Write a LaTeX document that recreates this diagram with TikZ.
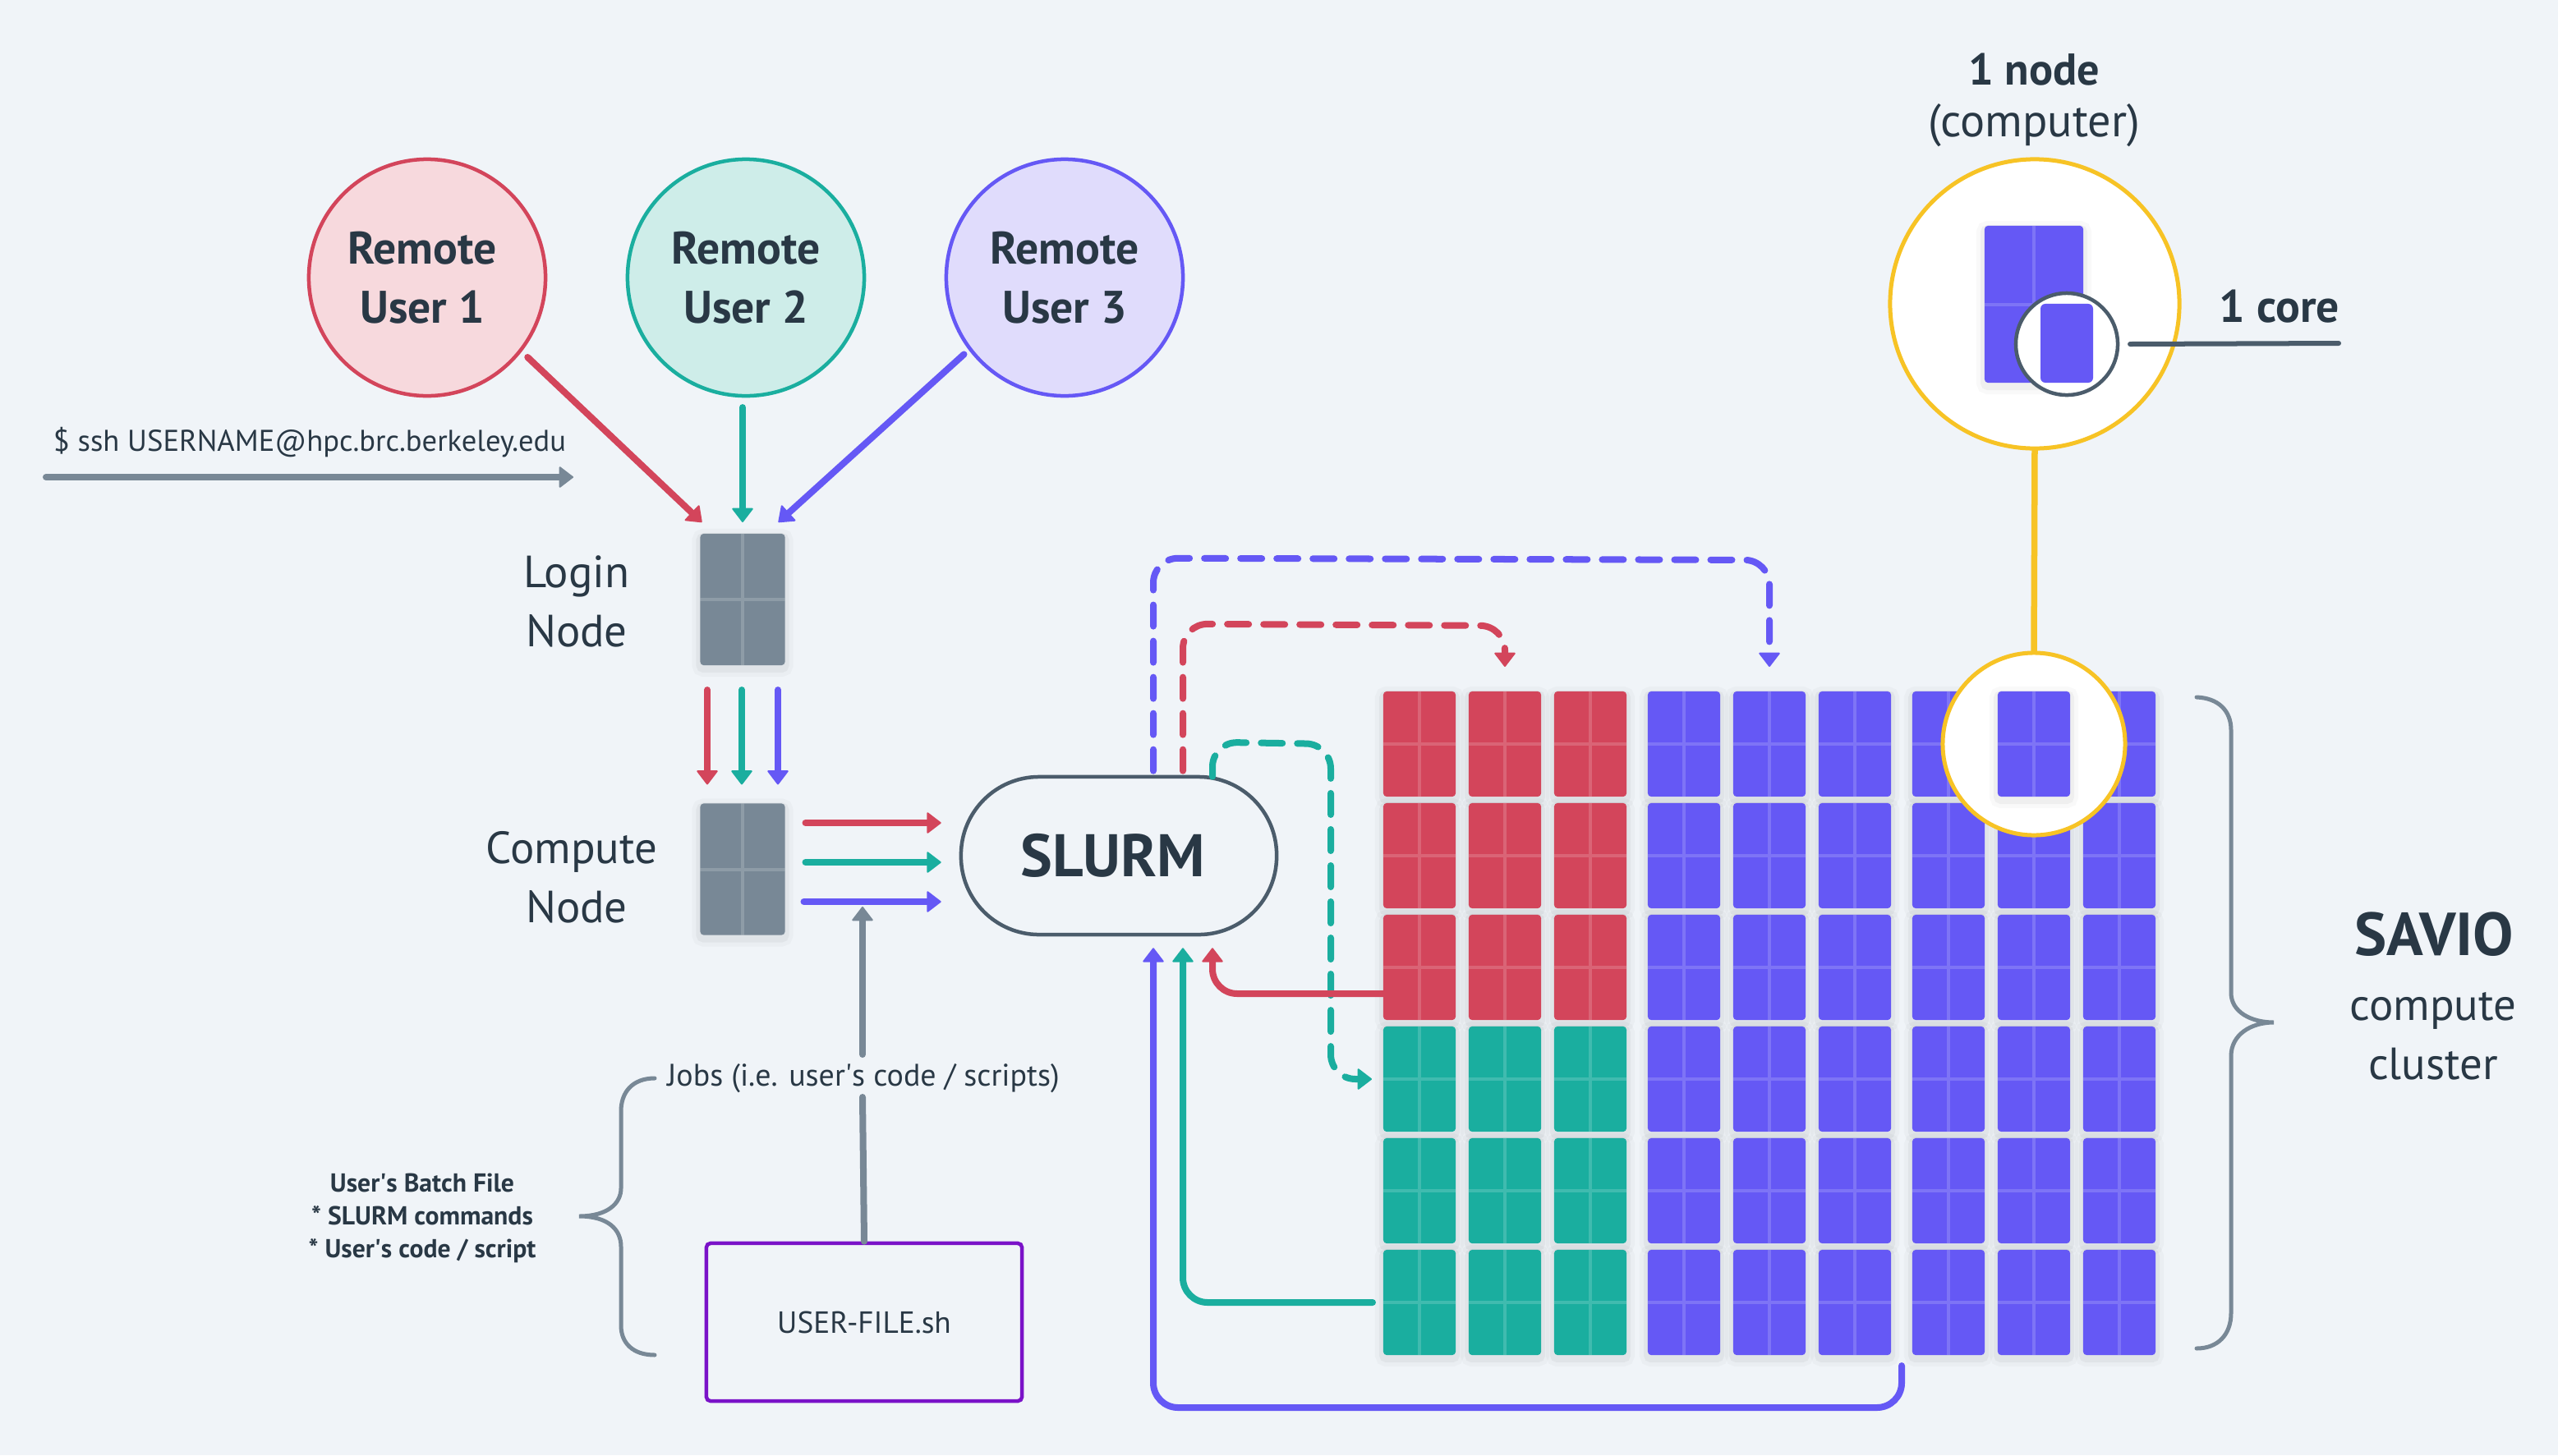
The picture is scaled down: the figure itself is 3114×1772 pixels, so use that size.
\documentclass[tikz,border=0pt]{standalone}
\usepackage{fontspec}
\setmainfont{PT Sans}
\usetikzlibrary{arrows.meta,calc}
\definecolor{bgc}{HTML}{F0F4F8}
\definecolor{redc}{HTML}{D3455B}
\definecolor{tealc}{HTML}{1AAE9F}
\definecolor{bluec}{HTML}{6558F5}
\definecolor{greyc}{HTML}{788896}
\definecolor{darkc}{HTML}{293845}
\definecolor{slatec}{HTML}{4B5C6B}
\definecolor{yelc}{HTML}{F7C325}
\definecolor{purpc}{HTML}{7A12C8}
\definecolor{redl}{HTML}{F7D9DD}
\definecolor{teall}{HTML}{CEEDE9}
\definecolor{bluel}{HTML}{E0DCFC}
\tikzset{
  softshadow/.style={
    preaction={draw=black,opacity=.025,line width=.2cm,fill=none,transform canvas={yshift=-.04cm}},
    preaction={draw=black,opacity=.04,line width=.1cm,fill=none,transform canvas={yshift=-.04cm}}},
  cross/.style={path picture={
    \draw[white,opacity=.17,line width=.04cm]
      (path picture bounding box.north) -- (path picture bounding box.south)
      (path picture bounding box.west) -- (path picture bounding box.east);}},
  srv/.style={rectangle,rounded corners=.04cm,inner sep=0pt,outer sep=0pt,
    minimum width=.88cm,minimum height=1.28cm,softshadow,cross},
  gatebox/.style={srv,fill=greyc,minimum width=1.03cm,minimum height=1.6cm},
  usercirc/.style={circle,inner sep=0pt,outer sep=0pt,minimum size=2.88cm,line width=.045cm},
  usertxt/.style={align=center,text=darkc,inner sep=0pt,
    font=\fontsize{15.8}{20.5}\selectfont\bfseries},
  lab/.style={align=center,text=darkc,inner sep=0pt,font=\fontsize{15.6}{20.5}\selectfont},
  small/.style={text=darkc,inner sep=0pt,font=\fontsize{10.4}{12}\selectfont},
  batch/.style={align=center,text=darkc,inner sep=0pt,font=\fontsize{9}{11.4}\selectfont\bfseries},
  flow/.style={line width=.08cm,line cap=round,
    -{Triangle[length=.18cm,width=.27cm,line width=.02cm,round]}},
  gflow/.style={flow,draw=greyc},
  gline/.style={draw=greyc,line width=.08cm,line cap=round},
  dashflow/.style={flow,rounded corners=.3cm,dash pattern=on .26cm off .18cm},
  solidflow/.style={flow,rounded corners=.3cm},
  bracec/.style={draw=greyc,line width=.05cm,line cap=round},
}
\begin{document}
\begin{tikzpicture}[x=.01cm,y=-.01cm]
\fill[bgc] (0,0) rectangle (3114,1772);
\useasboundingbox (0,0) rectangle (3114,1772);

% users
\node[usercirc,draw=redc,fill=redl] (u1) at (520,338) {};
\node[usercirc,draw=tealc,fill=teall] (u2) at (908,338) {};
\node[usercirc,draw=bluec,fill=bluel] (u3) at (1296,338) {};
\node[usertxt] (u1t) at (514,338) {Remote\\User 1};
\node[usertxt] (u2t) at (908,338) {Remote\\User 2};
\node[usertxt] (u3t) at (1296,338) {Remote\\User 3};

% login and compute nodes
\node[gatebox] (login) at (904,730) {};
\node[gatebox] (compute) at (904,1058.5) {};
\node[lab] (loginl) at (702,732) {Login\\Node};
\node[lab] (computel) at (696,1068) {Compute\\\hspace*{.12cm}Node};

% user to login
\draw[flow,draw=redc,shorten <=.12cm] (u1.-38) -- ([shift={(2,-14)}]login.north west);
\draw[flow,draw=tealc] ([shift={(-4,14)}]u2.south) -- ([shift={(0,-14)}]login.north);
\draw[flow,draw=bluec,shorten <=.1cm] (u3.-143) -- ([shift={(-8,-14)}]login.north east);

% ssh
\node[small,anchor=base] (ssh) at (377,549.5) {\$ ssh USERNAME@hpc.brc.berkeley.edu};
\coordinate (sshstart) at (56,581);
\coordinate (sshend) at (698,581);
\draw[gflow] (sshstart) -- (sshend);

% login to compute
\draw[flow,draw=redc] ([shift={(-43,30)}]login.south) -- ([shift={(-43,-23)}]compute.north);
\draw[flow,draw=tealc] ([shift={(-1,30)}]login.south) -- ([shift={(-1,-23)}]compute.north);
\draw[flow,draw=bluec] ([shift={(43,30)}]login.south) -- ([shift={(43,-23)}]compute.north);

% SLURM
\node[rectangle,draw=slatec,line width=.045cm,rounded corners=.95cm,minimum width=3.84cm,minimum height=1.92cm,
  inner sep=0pt,text=darkc,font=\fontsize{20.8}{24}\selectfont\bfseries] (slurm) at (1362,1042) {SLURM\kern.14cm};

% compute to SLURM
\draw[flow,draw=redc] ([shift={(25,-56.5)}]compute.east) -- ([shift={(-22,-40)}]slurm.west);
\draw[flow,draw=tealc] ([shift={(25,-8.5)}]compute.east) -- ([shift={(-22,8)}]slurm.west);
\draw[flow,draw=bluec] ([shift={(23,39.5)}]compute.east) -- ([shift={(-22,56)}]slurm.west);

% batch file
\node[rectangle,draw=purpc,line width=.045cm,rounded corners=.05cm,minimum width=3.84cm,minimum height=1.92cm,
  inner sep=0pt,text=darkc,font=\fontsize{10.6}{12}\selectfont] (file) at (1052,1610) {USER-FILE.sh};
\node[small,font=\fontsize{10.8}{12}\selectfont] (jobs) at (1051,1313) {Jobs (i.e. user\textquotesingle s code / scripts)};
\coordinate (jobtip) at (1050,1104);
\draw[gline] (file.north) -- ([shift={(-1,23)}]jobs.center);
\draw[gflow] ([shift={(-1,-29)}]jobs.center) -- (jobtip);
\node[batch] (batch) at (514,1483) {User\textquotesingle s Batch File\\* SLURM commands\\* User\textquotesingle s code / script};
\draw[bracec] (797,1313) .. controls (770,1313) and (756,1330) .. (756,1353) -- (756,1447)
  .. controls (756,1465) and (740,1481) .. (705,1481)
  .. controls (740,1481) and (756,1497) .. (756,1518) -- (756,1614)
  .. controls (756,1635) and (770,1650) .. (797,1650);

% cluster grid
\foreach \cx [count=\ci] in {1728,1832,1936,2050,2154,2258,2372,2476,2580}
  \foreach \ry [count=\ri] in {906,1042,1178,1314,1450,1586} {
    \ifnum\ci>3 \def\cc{bluec}\else\ifnum\ri>3 \def\cc{tealc}\else\def\cc{redc}\fi\fi
    \node[srv,fill=\cc] (c-\ri-\ci) at (\cx,\ry) {};
  }

% dashed jobs out of SLURM
\draw[dashflow,draw=bluec] ([shift={(42,-5)}]slurm.north) -- ++(0,-259) -- ([shift={(0,-160)}]c-1-5.north) -- ([shift={(0,-30)}]c-1-5.north);
\draw[dashflow,draw=redc] ([shift={(78,-5)}]slurm.north) -- ++(0,-179) -- ([shift={(0,-80)}]c-1-2.north) -- ([shift={(0,-30)}]c-1-2.north);
\draw[dashflow,draw=tealc] ([shift={(114,2)}]slurm.north) -- ++(0,-42) -- (1620,906) -- (1620,1314) -- ([shift={(-14,0)}]c-4-1.west);

% solid returns to SLURM
\draw[solidflow,draw=bluec] ([shift={(13,13)}]c-6-6.south east) -- (2315,1714) -- (1404,1714) -- ([shift={(42,14)}]slurm.south);
\draw[solidflow,draw=tealc] ([shift={(-13,0)}]c-6-1.west) -- (1440,1586) -- ([shift={(78,14)}]slurm.south);
\draw[solidflow,draw=redc,line cap=butt] ([shift={(0,32)}]c-3-1.west) -- (1476,1210) -- ([shift={(114,14)}]slurm.south);

% zoom on one node
\node[circle,draw=yelc,fill=white,line width=.05cm,minimum size=3.52cm,inner sep=0pt,outer sep=0pt] (bigc) at (2477,370) {};
\node[circle,draw=yelc,fill=white,line width=.05cm,minimum size=2.22cm,inner sep=0pt,outer sep=0pt] (smallc) at (2476,906) {};
\draw[draw=yelc,line width=.075cm] (bigc.south) -- (smallc.north);
\node[srv,fill=bluec] (zoomed) at (2476,906) {};
\node[srv,fill=bluec,minimum width=1.2cm,minimum height=1.91cm] (bignode) at (2476,370.5) {};
\node[circle,draw=slatec,fill=white,line width=.045cm,minimum size=1.24cm,inner sep=0pt,outer sep=0pt] (corec) at (2516,419) {};
\node[rectangle,rounded corners=.06cm,fill=bluec,minimum width=.64cm,minimum height=.96cm,inner sep=0pt] (core) at (2516,418) {};
\node[usertxt,anchor=base] (corel) at (2775,392) {1 core};
\coordinate (coreend) at (2847,418);
\draw[draw=slatec,line width=.06cm,line cap=round] ([shift={(15,0)}]corec.east) -- (coreend);
\node[align=center,text=darkc,inner sep=0pt,font=\fontsize{16}{17.8}\selectfont] (nodel) at (2476,122)
  {{\fontsize{15.4}{17.8}\selectfont\textbf{1 node}}\\(computer)};

% right brace and cluster label
\draw[bracec] (2674,849) .. controls (2700,850) and (2716,865) .. (2716,889) -- (2716,1209)
  .. controls (2716,1232) and (2740,1245) .. (2768,1245)
  .. controls (2740,1245) and (2716,1260) .. (2716,1286) -- (2716,1599)
  .. controls (2716,1625) and (2700,1642) .. (2674,1642);
\node[text=darkc,inner sep=0pt,anchor=base,font=\fontsize{21}{24}\selectfont\bfseries] (savio) at (2963,1163) {SAVIO};
\node[lab,anchor=center] (clusterl) at (2962,1262) {compute\\cluster};
\end{tikzpicture}
\end{document}
